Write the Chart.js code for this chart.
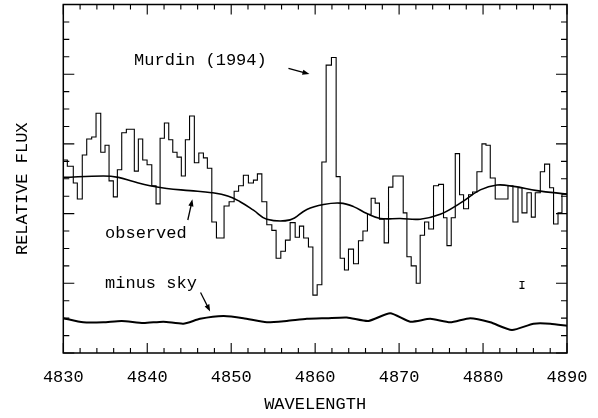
<!DOCTYPE html>
<html><head><meta charset="utf-8">
<script src="https://cdn.jsdelivr.net/npm/chart.js@4/dist/chart.umd.min.js"></script>
<style>html,body{margin:0;padding:0;background:#fff}canvas{display:block}</style>
</head><body>
<canvas id="c" width="598" height="418"></canvas>
<script>
// ---- data (wavelength in Angstrom, relative flux in arbitrary units) ----
const specEdge = [4830.00,4830.48,4831.19,4831.67,4832.26,4832.79,4833.38,4833.90,4834.46,4834.97,
  4835.45,4835.96,4836.44,4836.96,4837.51,4838.46,4838.94,4839.46,4839.98,4840.54,
  4841.05,4841.53,4842.04,4842.56,4843.04,4843.55,4844.06,4844.54,4845.04,4845.61,
  4846.14,4846.69,4847.16,4847.69,4848.24,4849.15,4849.75,4850.35,4850.88,4851.45,
  4852.05,4852.65,4853.12,4853.65,4854.24,4854.84,4855.35,4855.91,4856.46,4857.02,
  4857.62,4858.13,4858.63,4859.20,4859.73,4860.24,4860.80,4861.31,4861.94,4862.50,
  4862.98,4863.49,4863.97,4864.57,4865.16,4865.69,4866.23,4866.67,4867.15,4867.66,
  4868.22,4868.74,4869.26,4870.49,4870.93,4871.44,4872.04,4872.51,4873.03,4873.53,
  4874.10,4874.70,4875.29,4875.70,4876.21,4876.69,4877.20,4877.68,4878.27,4878.75,
  4879.27,4879.87,4880.35,4880.86,4881.45,4882.97,4883.56,4884.16,4884.64,4885.23,
  4885.75,4886.22,4886.82,4887.33,4887.93,4888.40,4888.93,4889.40,4890.00];
const specFlux = [2.77,2.68,2.44,2.21,2.84,3.07,3.10,3.44,2.88,2.98,
  2.47,2.24,2.63,3.16,3.21,2.61,3.07,2.77,2.70,2.40,
  2.14,3.08,3.30,3.06,2.88,2.81,2.54,3.06,3.40,2.73,
  2.87,2.80,2.65,1.88,1.65,2.11,2.17,2.32,2.40,2.55,
  2.44,2.48,2.57,2.17,1.84,1.76,1.36,1.46,1.62,1.87,
  1.66,1.82,1.65,1.52,0.83,0.98,2.74,4.13,4.24,2.53,
  1.36,1.19,1.49,1.28,1.61,1.75,1.99,2.22,2.15,1.92,
  1.58,2.38,2.54,2.01,1.38,1.25,1.00,1.69,1.88,1.78,
  2.40,2.42,1.94,1.54,1.94,2.86,2.27,2.07,2.27,2.31,
  2.60,3.00,2.98,2.51,2.21,2.40,1.88,2.37,2.01,2.30,
  1.95,2.30,2.60,2.71,2.37,1.85,2.01,2.28];

const obsWave = [4830,4834.77,4836.56,4838.34,4840.33,4842.32,4845.10,4847.69,4849.67,4851.06,
  4852.65,4854.24,4857.02,4859.01,4860.99,4862.98,4864.57,4866.16,4867.75,4870.13,
  4872.51,4874.90,4877.28,4879.67,4881.66,4883.64,4886.42,4890];
const obsFlux = [2.52,2.54,2.52,2.46,2.40,2.36,2.33,2.30,2.25,2.17,
  2.05,1.92,1.91,2.06,2.13,2.15,2.10,2.00,1.93,1.93,
  1.92,1.99,2.15,2.34,2.41,2.39,2.33,2.28];

const skyWave = [4830,4832.38,4834.77,4836.96,4839.54,4841.92,4844.30,4846.29,4849.07,4851.45,
  4854.24,4856.63,4859.01,4861.39,4863.78,4866.35,4868.94,4871.32,4873.71,4876.09,
  4878.47,4880.86,4883.44,4886.02,4888.01,4890];
const skyFlux = [0.50,0.44,0.44,0.46,0.43,0.45,0.42,0.49,0.53,0.50,
  0.44,0.46,0.49,0.50,0.51,0.46,0.57,0.45,0.49,0.44,
  0.50,0.44,0.33,0.42,0.42,0.39];

const xTickValues = [4830,4840,4850,4860,4870,4880,4890];
const xMinorStep = 2;
const yMajorValues = [0,1,2,3,4,5];
const yMinorStep = 0.25;

// annotations (data coordinates)
const labelMurdin = {text:'Murdin (1994)', x:4838.43, y:4.19};
const labelObserved = {text:'observed', x:4834.97, y:1.71};
const labelSky = {text:'minus sky', x:4834.97, y:1.00};
const arrowMurdin = {x0:4856.82, y0:4.085, x1:4859.32, y1:4.003};
const arrowObserved = {x0:4844.83, y0:1.908, x1:4845.38, y1:2.205};
const arrowSky = {x0:4846.35, y0:0.868, x1:4847.49, y1:0.595};
const errBar = {x:4884.64, y:0.976, err:0.05};

const FONT = "'Liberation Mono','DejaVu Sans Mono',monospace";

const histPts = specFlux.map((v,i)=>({x:specEdge[i], y:v}));
histPts.push({x:specEdge[specEdge.length-1], y:specFlux[specFlux.length-1]});

const framePlugin = {
  id:'frame',
  afterDraw(chart){
    const {ctx, chartArea:a, scales:{x,y}} = chart;
    ctx.save();
    ctx.strokeStyle = '#000';
    ctx.lineWidth = 1.5;
    ctx.strokeRect(a.left, a.top, a.right-a.left, a.bottom-a.top);
    ctx.lineWidth = 1.1;
    ctx.beginPath();
    for (let v = x.min; v <= x.max + 1e-9; v += xMinorStep) {
      const px = x.getPixelForValue(v);
      const major = xTickValues.some(t => Math.abs(t-v) < 1e-6);
      const len = major ? 10 : 5;
      ctx.moveTo(px, a.bottom); ctx.lineTo(px, a.bottom-len);
      ctx.moveTo(px, a.top); ctx.lineTo(px, a.top+len);
    }
    for (let v = y.min; v <= y.max + 1e-9; v += yMinorStep) {
      const py = y.getPixelForValue(v);
      const major = yMajorValues.some(t => Math.abs(t-v) < 1e-6);
      const len = major ? 11 : 6;
      ctx.moveTo(a.left, py); ctx.lineTo(a.left+len, py);
      ctx.moveTo(a.right, py); ctx.lineTo(a.right-len, py);
    }
    ctx.stroke();

    // text labels
    ctx.fillStyle = '#000';
    ctx.font = '17px ' + FONT;
    ctx.textBaseline = 'middle';
    ctx.textAlign = 'left';
    [labelMurdin, labelObserved, labelSky].forEach(l => {
      ctx.fillText(l.text, x.getPixelForValue(l.x), y.getPixelForValue(l.y));
    });

    // arrows
    const arrow = (ar) => {
      const x0 = x.getPixelForValue(ar.x0), y0 = y.getPixelForValue(ar.y0);
      const x1 = x.getPixelForValue(ar.x1), y1 = y.getPixelForValue(ar.y1);
      const ang = Math.atan2(y1-y0, x1-x0);
      const hl = 7, hw = 2.6;
      ctx.lineWidth = 1.3;
      ctx.beginPath();
      ctx.moveTo(x0,y0);
      ctx.lineTo(x1 - hl*Math.cos(ang)*0.8, y1 - hl*Math.sin(ang)*0.8);
      ctx.stroke();
      ctx.beginPath();
      ctx.moveTo(x1,y1);
      ctx.lineTo(x1 - hl*Math.cos(ang) + hw*Math.sin(ang), y1 - hl*Math.sin(ang) - hw*Math.cos(ang));
      ctx.lineTo(x1 - hl*Math.cos(ang) - hw*Math.sin(ang), y1 - hl*Math.sin(ang) + hw*Math.cos(ang));
      ctx.closePath();
      ctx.fill();
    };
    arrow(arrowMurdin); arrow(arrowObserved); arrow(arrowSky);

    // error bar
    const ex = x.getPixelForValue(errBar.x);
    const ey0 = y.getPixelForValue(errBar.y - errBar.err);
    const ey1 = y.getPixelForValue(errBar.y + errBar.err);
    ctx.lineWidth = 1.2;
    ctx.beginPath();
    ctx.moveTo(ex, ey0); ctx.lineTo(ex, ey1);
    ctx.moveTo(ex-2.5, ey0); ctx.lineTo(ex+2.5, ey0);
    ctx.moveTo(ex-2.5, ey1); ctx.lineTo(ex+2.5, ey1);
    ctx.stroke();

    // y axis title
    ctx.save();
    ctx.translate(22, (a.top + a.bottom)/2 + 10);
    ctx.rotate(-Math.PI/2);
    ctx.textAlign = 'center';
    ctx.textBaseline = 'middle';
    ctx.font = '17px ' + FONT;
    ctx.fillText('RELATIVE FLUX', 0, 0);
    ctx.restore();
    ctx.restore();
  }
};

new Chart(document.getElementById('c'), {
  type:'line',
  data:{
    datasets:[
      {label:'spectrum', data:histPts, stepped:'before', borderColor:'#000', borderWidth:1.1, pointRadius:0, fill:false},
      {label:'observed', data:obsWave.map((w,i)=>({x:w,y:obsFlux[i]})), borderColor:'#000', borderWidth:1.6, pointRadius:0, tension:0.4, fill:false},
      {label:'minus sky', data:skyWave.map((w,i)=>({x:w,y:skyFlux[i]})), borderColor:'#000', borderWidth:2, pointRadius:0, tension:0.2, fill:false}
    ]
  },
  options:{
    responsive:false,
    animation:false,
    events:[],
    layout:{padding:{left:0,right:31,top:4.5,bottom:0}},
    plugins:{legend:{display:false}, tooltip:{enabled:false}},
    scales:{
      x:{
        type:'linear', min:4830, max:4890,
        afterBuildTicks: s => { s.ticks = xTickValues.map(v=>({value:v})); },
        afterFit: s => { s.height = 65; },
        grid:{display:false}, border:{display:false},
        ticks:{color:'#000', padding:6, maxRotation:0, autoSkip:false, font:{family:FONT, size:17},
          callback: v => String(v)},
        title:{display:true, text:'WAVELENGTH', color:'#000', font:{family:FONT, size:17}, padding:{top:0,bottom:3}}
      },
      y:{
        type:'linear', min:0, max:5,
        afterFit: s => { s.width = 63.3; },
        grid:{display:false}, border:{display:false},
        ticks:{display:false}
      }
    }
  },
  plugins:[framePlugin]
});
</script>
</body></html>
